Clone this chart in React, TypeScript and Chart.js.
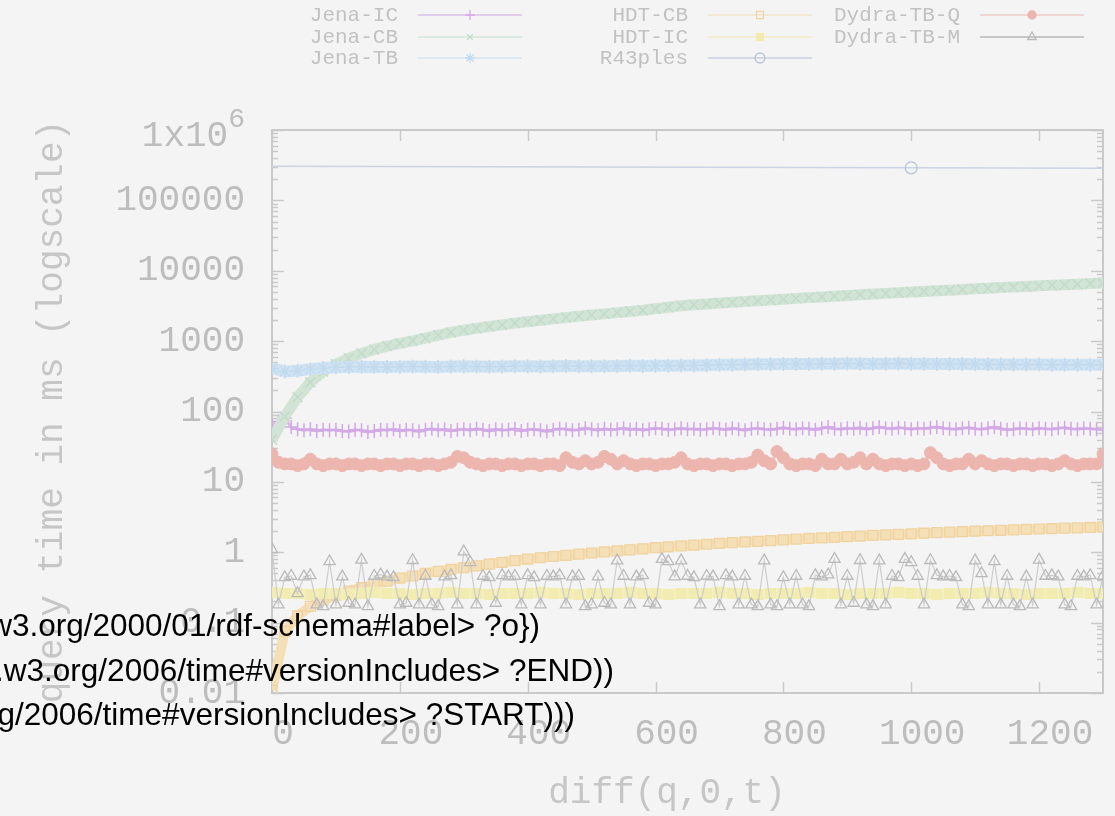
import React, { useEffect, useRef } from 'react';
import { Chart, registerables } from 'chart.js';
import { drawPoint } from 'chart.js/helpers';

Chart.register(...registerables);

// x positions (diff index) of the sampled measurements
const diffStep10 = Array.from({ length: 131 }, (_, i) => i * 10);
const diffStep20 = Array.from({ length: 66 }, (_, i) => i * 20);
const diffR43ples = [0, 1000, 1300];

// query times in ms
const jenaIC = [
  62, 72, 80, 60, 56, 54, 56, 53, 55, 54,
  55, 53, 52, 55, 54, 51, 53, 55, 54, 56,
  53, 55, 54, 52, 55, 57, 54, 56, 53, 55,
  56, 54, 57, 55, 53, 56, 54, 55, 57, 53,
  55, 56, 54, 52, 55, 57, 56, 54, 55, 58,
  56, 54, 57, 55, 56, 58, 55, 57, 54, 56,
  58, 57, 55, 56, 58, 56, 57, 55, 56, 58,
  57, 55, 58, 56, 54, 57, 58, 56, 55, 57,
  59, 57, 56, 58, 57, 55, 58, 60, 57, 56,
  58, 57, 59, 56, 58, 60, 58, 57, 59, 58,
  56, 58, 57, 59, 60, 58, 57, 56, 58, 59,
  57, 56, 58, 60, 57, 55, 56, 58, 57, 56,
  58, 57, 56, 58, 59, 57, 56, 58, 57, 56,
  55,
];
const jenaCB = [
  40, 85, 160, 260, 370, 470, 570, 670, 760, 850,
  930, 1010, 1100, 1220, 1330, 1430, 1520, 1610, 1700, 1800,
  1890, 1980, 2070, 2170, 2260, 2350, 2440, 2540, 2640, 2740,
  2880, 3030, 3190, 3290, 3380, 3470, 3560, 3650, 3740, 3840,
  3950, 4050, 4150, 4250, 4350, 4450, 4550, 4660, 4770, 4880,
  4980, 5080, 5190, 5300, 5420, 5530, 5640, 5760, 5870, 5990,
  6100, 6220, 6330, 6450, 6570, 6680,
];
const jenaTB = [
  410, 370, 380, 400, 415, 425, 430, 432, 430, 428,
  432, 435, 433, 430, 435, 438, 436, 434, 437, 440,
  438, 436, 440, 442, 440, 438, 441, 443, 445, 443,
  446, 448, 450, 452, 455, 460, 462, 465, 468, 470,
  472, 474, 475, 476, 478, 480, 478, 476, 478, 480,
  478, 476, 475, 474, 472, 470, 468, 467, 466, 465,
  464, 463, 462, 461, 460, 460,
];
const hdtCB = [
  0.011, 0.075, 0.125, 0.17, 0.21, 0.245, 0.28, 0.315, 0.35, 0.39,
  0.43, 0.46, 0.5, 0.535, 0.57, 0.605, 0.64, 0.68, 0.72, 0.76,
  0.8, 0.835, 0.87, 0.905, 0.94, 0.975, 1.01, 1.045, 1.08, 1.12,
  1.16, 1.195, 1.23, 1.265, 1.3, 1.335, 1.37, 1.4, 1.43, 1.465,
  1.5, 1.535, 1.57, 1.6, 1.63, 1.665, 1.7, 1.735, 1.77, 1.8,
  1.83, 1.865, 1.9, 1.93, 1.96, 1.99, 2.02, 2.05, 2.08, 2.11,
  2.14, 2.17, 2.2, 2.225, 2.25, 2.28,
];
const hdtIC = [
  0.27, 0.26, 0.26, 0.25, 0.26, 0.26, 0.25, 0.26, 0.27, 0.26,
  0.26, 0.25, 0.26, 0.26, 0.27, 0.26, 0.26, 0.25, 0.26, 0.26,
  0.26, 0.27, 0.26, 0.26, 0.25, 0.26, 0.26, 0.26, 0.27, 0.26,
  0.26, 0.25, 0.26, 0.26, 0.26, 0.27, 0.26, 0.26, 0.25, 0.26,
  0.26, 0.26, 0.27, 0.26, 0.26, 0.25, 0.26, 0.26, 0.26, 0.27,
  0.26, 0.26, 0.25, 0.26, 0.26, 0.26, 0.27, 0.26, 0.26, 0.25,
  0.26, 0.26, 0.26, 0.27, 0.26, 0.26,
];
const r43ples = [305000, 290000, 285000];
const dydraTBQ = [
  25, 19, 18, 18, 17, 18, 21, 18, 17, 18,
  18, 17, 18, 18, 17, 18, 18, 17, 18, 18,
  17, 18, 18, 17, 18, 18, 17, 18, 19, 23,
  22, 19, 18, 17, 18, 18, 17, 18, 18, 17,
  18, 18, 17, 18, 18, 17, 22, 19, 18, 20,
  18, 19, 23, 21, 18, 20, 18, 17, 18, 18,
  17, 18, 18, 19, 22, 18, 17, 18, 18, 17,
  18, 18, 17, 18, 18, 19, 24, 20, 18, 27,
  22, 18, 17, 18, 18, 17, 21, 18, 18, 21,
  18, 19, 22, 18, 21, 18, 17, 18, 18, 17,
  18, 17, 18, 26, 22, 18, 17, 18, 18, 21,
  18, 20, 18, 17, 18, 18, 17, 18, 18, 17,
  18, 18, 17, 18, 20, 18, 17, 18, 18, 18,
  25,
];
const dydraTBM = [
  1.1, 0.18, 0.44, 0.46, 0.26, 0.45, 0.47, 0.18, 0.17, 0.74,
  0.18, 0.45, 0.19, 0.18, 0.78, 0.17, 0.46, 0.48, 0.45, 0.44,
  0.18, 0.19, 0.77, 0.18, 0.46, 0.18, 0.17, 0.45, 0.47, 0.18,
  1.02, 0.72, 0.18, 0.46, 0.44, 0.19, 0.47, 0.45, 0.46, 0.18,
  0.47, 0.44, 0.18, 0.46, 0.45, 0.47, 0.18, 0.45, 0.46, 0.17,
  0.18, 0.45, 0.19, 0.18, 0.76, 0.46, 0.18, 0.45, 0.47, 0.19,
  0.18, 0.8, 0.74, 0.45, 0.76, 0.46, 0.44, 0.18, 0.46, 0.45,
  0.17, 0.47, 0.45, 0.18, 0.46, 0.18, 0.17, 0.76, 0.18, 0.17,
  0.44, 0.18, 0.46, 0.18, 0.17, 0.47, 0.45, 0.48, 0.8, 0.18,
  0.46, 0.19, 0.77, 0.18, 0.17, 0.76, 0.18, 0.46, 0.44, 0.8,
  0.72, 0.46, 0.18, 0.77, 0.47, 0.45, 0.46, 0.44, 0.18, 0.17,
  0.76, 0.5, 0.18, 0.74, 0.18, 0.46, 0.18, 0.17, 0.45, 0.18,
  0.78, 0.46, 0.47, 0.45, 0.18, 0.17, 0.46, 0.45, 0.47, 0.18,
  0.46,
];

// axis ticks; a '^' marks a superscript exponent
const xTickValues = [0, 200, 400, 600, 800, 1000, 1200];
const yTickValues = [0.01, 0.1, 1, 10, 100, 1000, 10000, 100000, 1000000];
const yTickLabels = ['0.01', '0.1', '1', '10', '100', '1000', '10000', '100000', '1x10^6'];

const MONO = '"Liberation Mono", "DejaVu Sans Mono", monospace';
const BG = '#f4f4f4';
const FRAME = '#c9c9c9';
const AXIS_TEXT = '#bdbdbd';

type Series = {
  label: string;
  xs: number[];
  ys: number[];
  line: string;
  point: string;
  style: string;
  radius: number | number[];
  lineWidth: number;
  pointWidth: number;
  filled: boolean;
  keyRadius: number;
  keyLine: string;
};

const series: Series[] = [
  { label: 'Jena-IC', xs: diffStep10, ys: jenaIC, line: '#dbbaea', point: '#d3a8e6', style: 'cross', radius: 7, lineWidth: 3, pointWidth: 1.5, filled: false, keyRadius: 5, keyLine: '#dcc2ea' },
  { label: 'Jena-CB', xs: diffStep20, ys: jenaCB, line: '#d2e4d6', point: '#c3dbca', style: 'crossRot', radius: 7, lineWidth: 11, pointWidth: 1.5, filled: false, keyRadius: 4, keyLine: '#d6e6da' },
  { label: 'Jena-TB', xs: diffStep20, ys: jenaTB, line: '#d0e3f2', point: '#c2daee', style: 'star', radius: 7, lineWidth: 12, pointWidth: 1.5, filled: false, keyRadius: 5, keyLine: '#d5e5f2' },
  { label: 'HDT-CB', xs: diffStep20, ys: hdtCB, line: '#f5dfb6', point: '#f0d3a0', style: 'rect', radius: 7, lineWidth: 10, pointWidth: 1.3, filled: false, keyRadius: 5, keyLine: '#f3e4c8' },
  { label: 'HDT-IC', xs: diffStep20, ys: hdtIC, line: '#f4f0c0', point: '#f2ecb0', style: 'rect', radius: 7, lineWidth: 11, pointWidth: 1, filled: true, keyRadius: 5, keyLine: '#f2eec6' },
  { label: 'R43ples', xs: diffR43ples, ys: r43ples, line: '#ccd3e2', point: '#b8c3d7', style: 'circle', radius: [0, 6, 0], lineWidth: 1.5, pointWidth: 1.3, filled: false, keyRadius: 5, keyLine: '#c9d1df' },
  { label: 'Dydra-TB-Q', xs: diffStep10, ys: dydraTBQ, line: '#f0c5c0', point: '#ecb6af', style: 'circle', radius: 6, lineWidth: 3, pointWidth: 1, filled: true, keyRadius: 4, keyLine: '#efcdc9' },
  { label: 'Dydra-TB-M', xs: diffStep10, ys: dydraTBM, line: '#cdcdcd', point: '#bababa', style: 'triangle', radius: 6.5, lineWidth: 1.2, pointWidth: 1.3, filled: false, keyRadius: 5, keyLine: '#b9b9b9' },
];

// key layout: three columns, filled top to bottom
const keyTextRight = [398, 688, 960];
const keyRowY = [15, 37, 58];
const keySampleGap = 20;
const keySampleLen = 104;

const framePlugin = {
  id: 'gnuplotFrame',
  beforeDatasetsDraw(chart: any) {
    const { ctx, chartArea: a } = chart;
    const xs = chart.scales.x;
    const ys = chart.scales.y;
    ctx.save();
    ctx.strokeStyle = FRAME;
    ctx.lineWidth = 1.5;
    ctx.beginPath();
    for (let e = -2; e < 6; e++) {
      for (let m = 2; m <= 9; m++) {
        const py = Math.round(ys.getPixelForValue(m * Math.pow(10, e))) + 0.5;
        ctx.moveTo(a.left, py);
        ctx.lineTo(a.left + 6, py);
        ctx.moveTo(a.right, py);
        ctx.lineTo(a.right - 6, py);
      }
    }
    for (const v of yTickValues) {
      const py = Math.round(ys.getPixelForValue(v)) + 0.5;
      ctx.moveTo(a.left, py);
      ctx.lineTo(a.left + 12, py);
      ctx.moveTo(a.right, py);
      ctx.lineTo(a.right - 12, py);
    }
    for (const v of xTickValues) {
      const px = Math.round(xs.getPixelForValue(v)) + 0.5;
      ctx.moveTo(px, a.bottom);
      ctx.lineTo(px, a.bottom - 11);
      ctx.moveTo(px, a.top);
      ctx.lineTo(px, a.top + 11);
    }
    ctx.stroke();
    ctx.lineWidth = 2;
    ctx.strokeRect(a.left, a.top, a.right - a.left, a.bottom - a.top);
    ctx.restore();
  },
  afterDraw(chart: any) {
    const { ctx, chartArea: a } = chart;
    const ys = chart.scales.y;
    ctx.save();

    // y tick labels with a superscript exponent
    yTickValues.forEach((v, k) => {
      const text = yTickLabels[k];
      if (text.indexOf('^') < 0) return;
      const [base, exp] = text.split('^');
      const py = ys.getPixelForValue(v);
      const right = a.left - 27;
      ctx.fillStyle = AXIS_TEXT;
      ctx.textBaseline = 'middle';
      ctx.textAlign = 'right';
      ctx.font = `28px ${MONO}`;
      const expW = ctx.measureText(exp).width;
      ctx.fillText(exp, right, py - 10);
      ctx.font = `36px ${MONO}`;
      ctx.fillText(base, right - expW, py + 6);
    });

    // x axis title
    ctx.font = `36px ${MONO}`;
    ctx.fillStyle = '#c6c6c6';
    ctx.textAlign = 'center';
    ctx.textBaseline = 'middle';
    ctx.fillText('diff(q,0,t)', 667, 793);

    // key
    ctx.font = `21px ${MONO}`;
    ctx.textAlign = 'right';
    series.forEach((s, i) => {
      const col = Math.floor(i / 3);
      const row = i % 3;
      const tx = keyTextRight[col];
      const ty = keyRowY[row];
      ctx.fillStyle = '#c2c2c2';
      ctx.fillText(s.label, tx, ty);
      const x0 = tx + keySampleGap;
      ctx.strokeStyle = s.keyLine;
      ctx.lineWidth = 1.5;
      ctx.beginPath();
      ctx.moveTo(x0, ty);
      ctx.lineTo(x0 + keySampleLen, ty);
      ctx.stroke();
      ctx.strokeStyle = s.point;
      ctx.fillStyle = s.filled ? s.point : 'rgba(0,0,0,0)';
      ctx.lineWidth = 1.3;
      drawPoint(ctx, { pointStyle: s.style as any, rotation: 0, radius: s.keyRadius, borderWidth: 1.3 }, x0 + keySampleLen / 2, ty);
    });
    ctx.restore();
  },
};

export default function App() {
  const canvasRef = useRef<HTMLCanvasElement>(null);

  useEffect(() => {
    const canvas = canvasRef.current;
    if (!canvas) return;
    const datasets = series.map((s, i) => ({
      label: s.label,
      data: s.xs.map((x, j) => ({ x, y: s.ys[j] })),
      borderColor: s.line,
      borderWidth: s.lineWidth,
      pointStyle: s.style,
      pointRadius: s.radius,
      pointBorderColor: s.point,
      pointBackgroundColor: s.filled ? s.point : 'rgba(0,0,0,0)',
      pointBorderWidth: s.pointWidth,
      tension: 0,
      order: series.length - i,
    }));

    const chart = new Chart(canvas, {
      type: 'line',
      data: { datasets },
      plugins: [framePlugin],
      options: {
        responsive: false,
        animation: false,
        devicePixelRatio: 1,
        layout: { padding: { left: 0, top: 130, right: 12, bottom: 0 } },
        plugins: {
          legend: { display: false },
          tooltip: { enabled: false },
        },
        scales: {
          x: {
            type: 'linear',
            min: 0,
            max: 1300,
            afterFit: (s: any) => { s.height = 123; },
            afterBuildTicks: (s: any) => { s.ticks = xTickValues.map((v) => ({ value: v })); },
            grid: { display: false, drawTicks: false },
            border: { display: false },
            ticks: {
              padding: 20,
              labelOffset: 11,
              color: AXIS_TEXT,
              font: { family: MONO, size: 36 },
              maxRotation: 0,
              autoSkip: false,
              callback: (v: any) => String(v),
            },
          },
          y: {
            type: 'logarithmic',
            min: 0.01,
            max: 1000000,
            afterFit: (s: any) => { s.width = 272; },
            afterBuildTicks: (s: any) => { s.ticks = yTickValues.map((v) => ({ value: v })); },
            grid: { display: false, drawTicks: false },
            border: { display: false },
            ticks: {
              padding: 27,
              color: AXIS_TEXT,
              font: { family: MONO, size: 36 },
              autoSkip: false,
              callback: (v: any) => {
                const k = yTickValues.findIndex((t) => Math.abs(t - v) / t < 1e-6);
                if (k < 0) return '';
                const text = yTickLabels[k];
                return text.indexOf('^') >= 0 ? '' : text;
              },
            },
            title: {
              display: true,
              text: 'query time in ms (logscale)',
              color: '#c6c6c6',
              font: { family: MONO, size: 36 },
              padding: { top: 31, bottom: 0 },
            },
          },
        },
      },
    } as any);
    return () => chart.destroy();
  }, []);

  const overlay: React.CSSProperties = {
    position: 'absolute',
    whiteSpace: 'nowrap',
    fontFamily: '"Liberation Sans", Arial, sans-serif',
    fontSize: '31.5px',
    lineHeight: '31.5px',
    color: '#000',
  };

  return (
    <div style={{ position: 'absolute', left: 0, top: 0, width: 1115, height: 816, background: BG, overflow: 'hidden' }}>
      <canvas ref={canvasRef} width={1115} height={816} style={{ display: 'block', width: 1115, height: 816 }} />
      <div style={{ ...overlay, right: 1115 - 540, top: 610 }}>w3.org/2000/01/rdf-schema#label&gt; ?o{'}'})</div>
      <div style={{ ...overlay, right: 1115 - 614, top: 655 }}>.w3.org/2006/time#versionIncludes&gt; ?END))</div>
      <div style={{ ...overlay, right: 1115 - 575, top: 699 }}>g/2006/time#versionIncludes&gt; ?START)))</div>
    </div>
  );
}
